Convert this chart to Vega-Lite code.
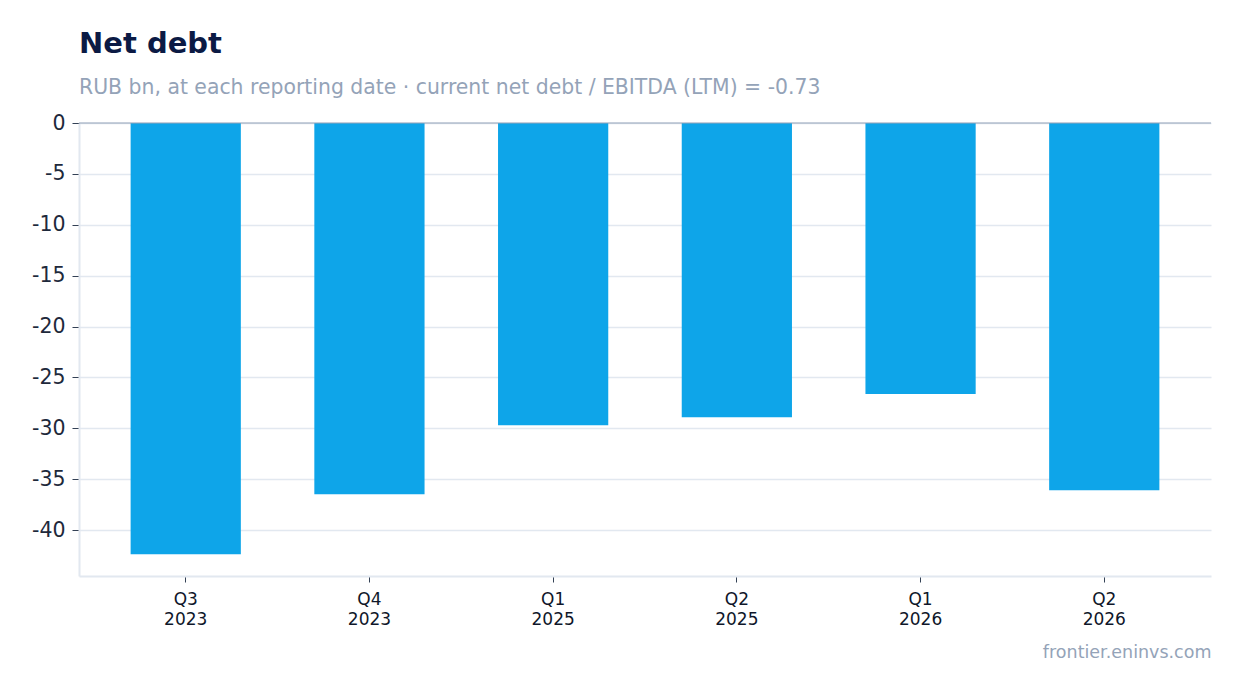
{
  "$schema": "https://vega.github.io/schema/vega-lite/v6.json",
  "width": 1132,
  "height": 453,
  "autosize": {"type": "none"},
  "padding": {"left": 79, "top": 123, "right": 30, "bottom": 117},
  "background": "white",
  "config": {
    "font": "DejaVu Sans",
    "view": {"stroke": null}
  },
  "title": {
    "text": "Net debt",
    "subtitle": "RUB bn, at each reporting date · current net debt / EBITDA (LTM) = -0.73",
    "anchor": "start",
    "frame": "group",
    "font": "DejaVu Sans",
    "fontSize": 29,
    "fontWeight": "bold",
    "color": "#0b1a44",
    "subtitleFont": "DejaVu Sans",
    "subtitleFontSize": 20.4,
    "subtitleColor": "#94a3b8",
    "subtitlePadding": 19,
    "offset": 15
  },
  "data": {
    "values": [
      {"period": "Q3 2023", "net_debt": -42.36},
      {"period": "Q4 2023", "net_debt": -36.46},
      {"period": "Q1 2025", "net_debt": -29.68},
      {"period": "Q2 2025", "net_debt": -28.9},
      {"period": "Q1 2026", "net_debt": -26.63},
      {"period": "Q2 2026", "net_debt": -36.07}
    ]
  },
  "layer": [
    {
      "mark": {"type": "bar", "color": "#0ea5e9"},
      "encoding": {
        "x": {
          "field": "period",
          "type": "nominal",
          "sort": null,
          "scale": {"paddingInner": 0.4, "paddingOuter": 0.281},
          "axis": {
            "title": "frontier.eninvs.com",
            "titleAnchor": "end",
            "titleAlign": "right",
            "titleFontSize": 17.5,
            "titleFontWeight": "normal",
            "titleColor": "#94a3b8",
            "titlePadding": 16,
            "labelAngle": 0,
            "labelExpr": "split(datum.label, ' ')",
            "labelFontSize": 17,
            "labelLineHeight": 20,
            "labelColor": "#0f172a",
            "labelPadding": 9,
            "domainColor": "#e2e8f0",
            "domainWidth": 2,
            "tickColor": "#334155",
            "tickSize": 6
          }
        },
        "y": {
          "field": "net_debt",
          "type": "quantitative",
          "scale": {"domain": [-44.5, 0], "nice": false, "zero": true},
          "axis": {
            "title": null,
            "values": [0, -5, -10, -15, -20, -25, -30, -35, -40],
            "labelExpr": "'' + datum.value",
            "labelFontSize": 20.5,
            "labelColor": "#1e293b",
            "labelPadding": 7,
            "domainColor": "#e2e8f0",
            "domainWidth": 2,
            "tickColor": "#334155",
            "tickSize": 7,
            "gridColor": "#e2e8f0",
            "gridWidth": 1.5
          }
        }
      }
    },
    {
      "data": {"values": [{"zero": 0}]},
      "mark": {"type": "rule", "color": "#94a3b8", "strokeWidth": 1},
      "encoding": {
        "y": {"field": "zero", "type": "quantitative"}
      }
    }
  ]
}
